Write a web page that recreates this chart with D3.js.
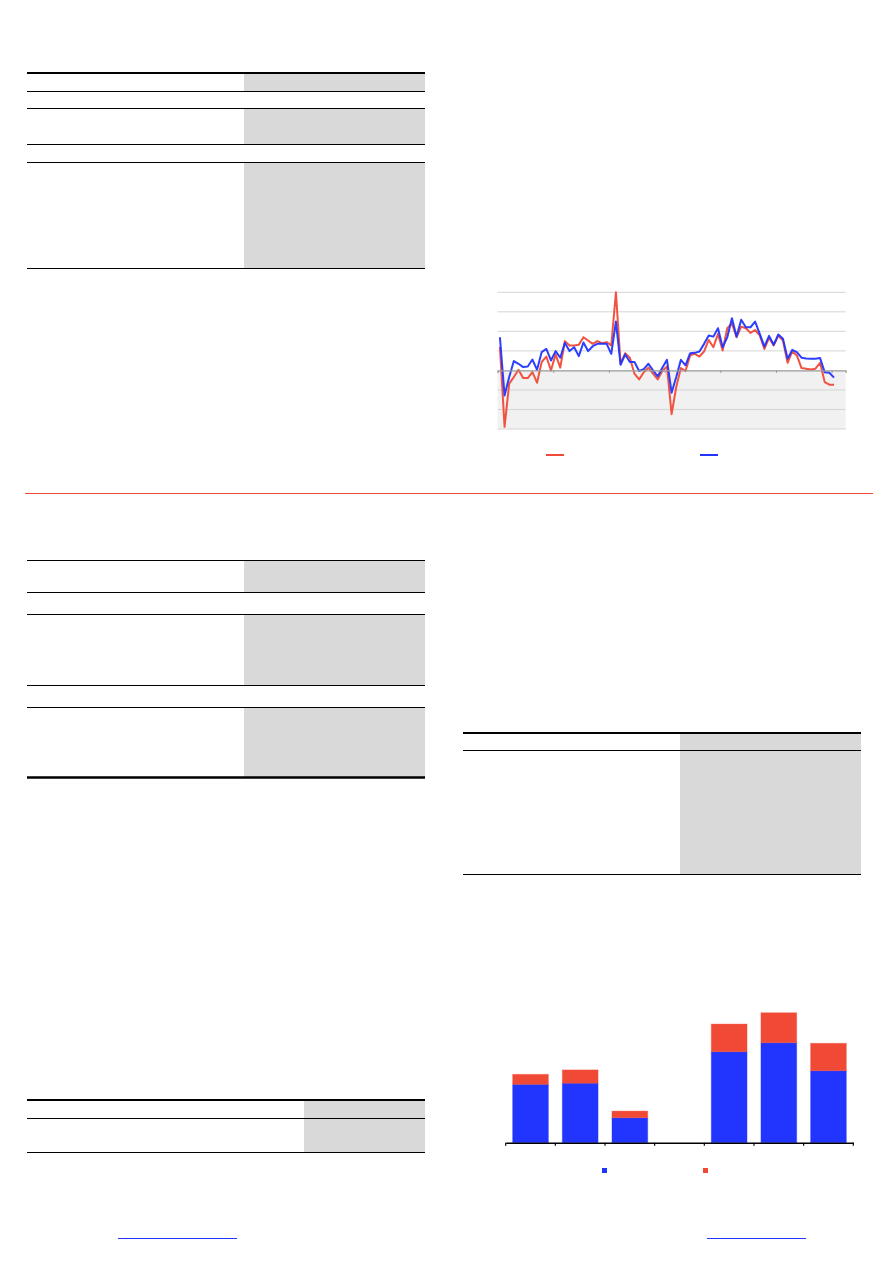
<!DOCTYPE html>
<html>
<head>
<meta charset="utf-8">
<script src="https://cdn.jsdelivr.net/npm/d3@7"></script>
<style>
  html, body { margin: 0; padding: 0; background: #fff; }
  svg { display: block; }
</style>
</head>
<body>
<svg id="page" width="893" height="1263"></svg>
<script>
// ---------- DATA ----------
// Monthly series (73 months), units of one gridline step
const seriesRed = [1.2, -2.89, -0.68, -0.34, 0.03, -0.39, -0.39, -0.09, -0.63, 0.43, 0.71, 0.0,
  0.82, 0.14, 1.5, 1.28, 1.28, 1.31, 1.7, 1.53, 1.36, 1.5, 1.39, 1.45,
  1.28, 4.0, 0.34, 0.88, 0.65, -0.17, -0.46, -0.09, 0.14, -0.17, -0.46, -0.03,
  0.2, -2.24, -0.85, 0.12, -0.03, 0.77, 0.85, 0.71, 0.97, 1.56, 1.19, 1.87,
  1.02, 2.16, 2.41, 1.7, 2.24, 2.16, 1.92, 2.07, 1.79, 1.1, 1.67, 1.28,
  1.79, 1.53, 0.39, 0.97, 0.77, 0.12, 0.09, 0.05, 0.09, 0.39, -0.6, -0.73, -0.73];
const seriesBlue = [1.7, -1.28, -0.34, 0.48, 0.34, 0.17, 0.2, 0.56, 0.03, 0.94, 1.1, 0.51,
  0.99, 0.65, 1.41, 0.99, 1.19, 0.73, 1.43, 0.99, 1.24, 1.36, 1.36, 1.36,
  0.85, 2.5, 0.29, 0.82, 0.43, 0.43, -0.03, 0.07, 0.34, 0.0, -0.31, 0.14,
  0.54, -1.14, -0.34, 0.54, 0.26, 0.88, 0.9, 0.97, 1.36, 1.79, 1.73, 2.16,
  1.19, 1.7, 2.67, 1.73, 2.59, 2.21, 2.21, 2.5, 1.87, 1.22, 1.77, 1.31,
  1.84, 1.62, 0.6, 1.05, 0.94, 0.65, 0.61, 0.6, 0.6, 0.63, -0.1, -0.12, -0.37];
const lineYTicks = [-3, -2, -1, 0, 1, 2, 3, 4];
const lineXTicks = [0, 12, 24, 36, 48, 60, 72];

// Stacked bar chart
const barCategories = ["c1", "c2", "c3", "c4", "c5", "c6", "c7"];
const barBlue = [5.0, 5.1, 2.14, 0, 7.8, 8.57, 6.17];
const barRed = [0.86, 1.14, 0.57, 0, 2.37, 2.57, 2.35];

// ---------- STYLE ----------
const RED = "#f04a36";
const BLUE = "#2135ff";
const GRAYFILL = "#d9d9d9";

const svg = d3.select("#page");

// ---------- TABLE SKELETONS ----------
function table(x0, x1, grayX, rules, grays) {
  const g = svg.append("g");
  grays.forEach(([y0, y1]) => g.append("rect")
    .attr("x", grayX).attr("y", y0).attr("width", x1 - grayX).attr("height", y1 - y0)
    .attr("fill", GRAYFILL));
  rules.forEach(([y, w]) => g.append("line")
    .attr("x1", x0).attr("x2", x1).attr("y1", y).attr("y2", y)
    .attr("stroke", "#000").attr("stroke-width", w));
}
table(27, 425, 244,
  [[73, 2], [91.5, 1.2], [108.5, 1.2], [144.5, 1.2], [162.5, 1.2], [268.5, 1.2]],
  [[73, 91], [108.5, 144], [162.5, 268.5]]);
table(27, 425, 244,
  [[560.5, 1.2], [592.5, 1.2], [614.5, 1.2], [685.5, 1.2], [707.5, 1.2], [777.5, 2.6]],
  [[560.5, 592.5], [614.5, 685.5], [707.5, 777.5]]);
table(463, 861, 680,
  [[733, 2], [750.5, 1.2], [874.5, 1.2]],
  [[733, 874.5]]);
table(27, 425, 304,
  [[1100, 2], [1118.5, 1.2], [1152.5, 1.2]],
  [[1100, 1152.5]]);

// separator
svg.append("line").attr("x1", 25).attr("x2", 873).attr("y1", 493.5).attr("y2", 493.5)
  .attr("stroke", RED).attr("stroke-width", 1);

// footer rules
[[118, 237], [707, 806]].forEach(([a, b]) => svg.append("line")
  .attr("x1", a).attr("x2", b).attr("y1", 1238.5).attr("y2", 1238.5)
  .attr("stroke", BLUE).attr("stroke-width", 1));

// ---------- LINE CHART ----------
(function () {
  const x = d3.scaleLinear().domain([0, 75]).range([497.6, 845.6]);
  const y = d3.scaleLinear().domain([-3, 4]).range([429, 292.3]);
  const g = svg.append("g");
  g.append("rect").attr("x", x(0)).attr("y", y(0))
    .attr("width", x(75) - x(0)).attr("height", y(-3) - y(0)).attr("fill", "#f1f1f1");
  g.selectAll("line.grid").data(lineYTicks.filter(d => d !== 0)).join("line")
    .attr("x1", x(0)).attr("x2", x(75))
    .attr("y1", d => y(d)).attr("y2", d => y(d))
    .attr("stroke", "#d4d4d4").attr("stroke-width", 1);
  const line = d3.line().x((d, i) => x(i + 0.5)).y(d => y(d));
  g.append("path").datum(seriesRed).attr("d", line)
    .attr("fill", "none").attr("stroke", RED).attr("stroke-width", 2)
    .attr("stroke-linejoin", "round").attr("opacity", 0.95);
  g.append("path").datum(seriesBlue).attr("d", line)
    .attr("fill", "none").attr("stroke", BLUE).attr("stroke-width", 2)
    .attr("stroke-linejoin", "round").attr("opacity", 0.95);
  // zero axis with year ticks
  const ax = g.append("g").attr("transform", `translate(0,${y(0)})`)
    .call(d3.axisBottom(x).tickValues(lineXTicks).tickSize(2.5).tickFormat(""));
  ax.select(".domain").attr("stroke", "#9a9a9a").attr("stroke-width", 1.2);
  ax.selectAll(".tick line").attr("stroke", "#9a9a9a");
  // legend
  [[546, RED], [700, BLUE]].forEach(([lx, c]) => g.append("line")
    .attr("x1", lx).attr("x2", lx + 18).attr("y1", 455).attr("y2", 455)
    .attr("stroke", c).attr("stroke-width", 2));
})();

// ---------- STACKED BAR CHART ----------
(function () {
  const x = d3.scaleBand().domain(barCategories).range([505.7, 853.3]).paddingInner(0.28).paddingOuter(0.14);
  const y = d3.scaleLinear().domain([0, 12]).range([1142.7, 1002.7]);
  const g = svg.append("g");
  const rows = barCategories.map((c, i) => ({ c, b: barBlue[i], r: barRed[i] }));
  g.selectAll("rect.b").data(rows.filter(d => d.b > 0)).join("rect")
    .attr("x", d => x(d.c)).attr("width", x.bandwidth())
    .attr("y", d => y(d.b)).attr("height", d => y(0) - y(d.b))
    .attr("fill", BLUE).attr("stroke", BLUE).attr("stroke-opacity", 0.35).attr("stroke-width", 1);
  g.selectAll("rect.r").data(rows.filter(d => d.r > 0)).join("rect")
    .attr("x", d => x(d.c)).attr("width", x.bandwidth())
    .attr("y", d => y(d.b + d.r)).attr("height", d => y(d.b) - y(d.b + d.r))
    .attr("fill", RED).attr("stroke", RED).attr("stroke-opacity", 0.35).attr("stroke-width", 1);
  const xb = d3.scaleBand().domain(barCategories).range([505.7, 853.3]);
  const ax = g.append("g").attr("transform", `translate(0,${y(0)})`)
    .call(d3.axisBottom(xb).tickSize(0).tickFormat(""));
  ax.select(".domain").attr("stroke", "#000").attr("stroke-width", 1.5);
  const edges = d3.range(barCategories.length + 1).map(i => 505.7 + i * xb.step());
  g.selectAll("line.tk").data(edges).join("line")
    .attr("x1", d => d).attr("x2", d => d)
    .attr("y1", y(0)).attr("y2", y(0) + 3)
    .attr("stroke", "#000").attr("stroke-width", 1.2);
  // legend
  [[602, BLUE], [703, RED]].forEach(([lx, c]) => g.append("rect")
    .attr("x", lx).attr("y", 1168).attr("width", 5).attr("height", 5).attr("fill", c));
})();
</script>
</body>
</html>
